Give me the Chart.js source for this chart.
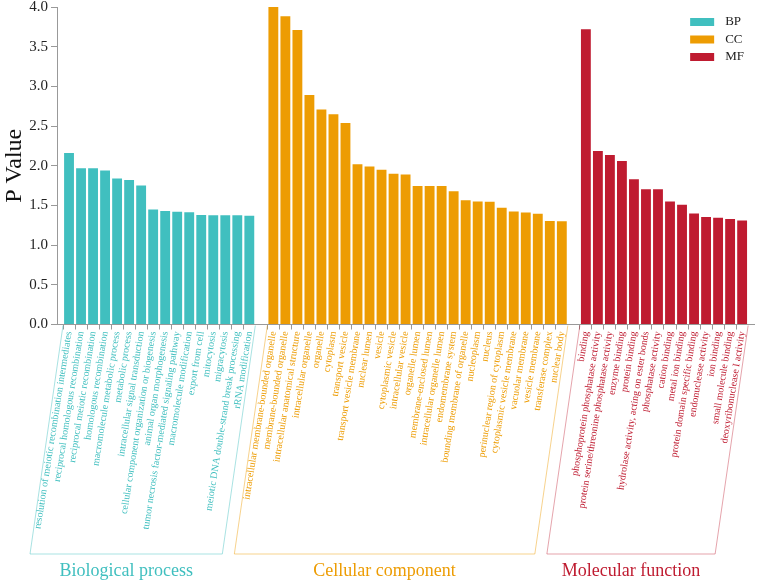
<!DOCTYPE html>
<html>
<head>
<meta charset="utf-8">
<script src="https://cdn.jsdelivr.net/npm/chart.js@4.4.1/dist/chart.umd.min.js"></script>
<style>
  html, body { margin: 0; padding: 0; background: #fff; }
  canvas { display: block; }
</style>
</head>
<body>
<canvas id="myChart" width="767" height="584"></canvas>
<script>
(function(){
const bpLabels = [
  'resolution of meiotic recombination intermediates',
  'reciprocal homologous recombination',
  'reciprocal meiotic recombination',
  'homologous recombination',
  'macromolecule metabolic process',
  'metabolic process',
  'intracellular signal transduction',
  'cellular component organization or biogenesis',
  'animal organ morphogenesis',
  'tumor necrosis factor-mediated signaling pathway',
  'macromolecule modification',
  'export from cell',
  'mitocytosis',
  'migracytosis',
  'meiotic DNA double-strand break processing',
  'rRNA modification'
];
const bpValues = [2.16, 1.97, 1.97, 1.94, 1.84, 1.82, 1.75, 1.45, 1.43, 1.42, 1.415, 1.38, 1.375, 1.375, 1.375, 1.37];

const ccLabels = [
  'intracellular membrane-bounded organelle',
  'membrane-bounded organelle',
  'intracellular anatomical structure',
  'intracellular organelle',
  'organelle',
  'cytoplasm',
  'transport vesicle',
  'transport vesicle membrane',
  'nuclear lumen',
  'vesicle',
  'cytoplasmic vesicle',
  'intracellular vesicle',
  'organelle lumen',
  'membrane-enclosed lumen',
  'intracellular organelle lumen',
  'endomembrane system',
  'bounding membrane of organelle',
  'nucleoplasm',
  'nucleus',
  'perinuclear region of cytoplasm',
  'cytoplasmic vesicle membrane',
  'vacuolar membrane',
  'vesicle membrane',
  'transferase complex',
  'nuclear body'
];
const ccValues = [4.00, 3.885, 3.71, 2.89, 2.71, 2.65, 2.54, 2.02, 1.99, 1.95, 1.90, 1.89, 1.745, 1.745, 1.745, 1.68, 1.565, 1.55, 1.545, 1.47, 1.425, 1.41, 1.395, 1.305, 1.30];

const mfLabels = [
  'binding',
  'phosphoprotein phosphatase activity',
  'protein serine/threonine phosphatase activity',
  'enzyme binding',
  'protein binding',
  'hydrolase activity, acting on ester bonds',
  'phosphatase activity',
  'cation binding',
  'metal ion binding',
  'protein domain specific binding',
  'endonuclease activity',
  'ion binding',
  'small molecule binding',
  'deoxyribonuclease I activity'
];
const mfValues = [3.72, 2.185, 2.135, 2.06, 1.83, 1.705, 1.705, 1.55, 1.51, 1.40, 1.354, 1.345, 1.33, 1.31];

const groups = [
  { key: 'BP', title: 'Biological process', color: '#40bfbf', line: 'rgba(64,191,191,0.45)', labels: bpLabels, values: bpValues },
  { key: 'CC', title: 'Cellular component', color: '#ed9c03', line: 'rgba(237,156,3,0.45)', labels: ccLabels, values: ccValues },
  { key: 'MF', title: 'Molecular function', color: '#bf1b30', line: 'rgba(191,27,48,0.4)', labels: mfLabels, values: mfValues }
];

// one empty slot at each end and between groups
let labels = [''];
let labelColor = ['#000'];
groups.forEach(g => {
  g.start = labels.length;
  g.labels.forEach(l => { labels.push(l); labelColor.push(g.color); });
  g.end = labels.length - 1;
  labels.push('');
  labelColor.push('#000');
});

const datasets = groups.map(g => ({
  label: g.key,
  data: labels.map((_, i) => (i >= g.start && i <= g.end) ? g.values[i - g.start] : null),
  backgroundColor: g.color,
  borderWidth: 0,
  grouped: false,
  categoryPercentage: 1,
  barPercentage: 0.82
}));

const serif = "'Liberation Serif', 'DejaVu Serif', serif";

const decor = {
  id: 'decor',
  afterDraw(chart) {
    const ctx = chart.ctx;
    const x = chart.scales.x;
    const area = chart.chartArea;
    const top = area.bottom;
    const bottom = chart.height - 30;
    const shift = 33;
    const half = (x.getPixelForValue(1) - x.getPixelForValue(0)) / 2;
    ctx.save();
    groups.forEach(g => {
      const x0 = x.getPixelForValue(g.start) - half;
      const x1 = x.getPixelForValue(g.end) + half;
      ctx.strokeStyle = g.line;
      ctx.lineWidth = 1;
      ctx.beginPath();
      ctx.moveTo(x0, top + 1);
      ctx.lineTo(x0 - shift, bottom);
      ctx.lineTo(x1 - shift, bottom);
      ctx.lineTo(x1, top + 1);
      ctx.stroke();
      ctx.fillStyle = g.color;
      ctx.font = '18px ' + serif;
      ctx.textAlign = 'center';
      ctx.textBaseline = 'middle';
      ctx.fillText(g.title, (x0 + x1) / 2 - shift, bottom + 17);
    });
    // legend
    ctx.font = '13px ' + serif;
    ctx.textAlign = 'left';
    ctx.textBaseline = 'middle';
    chart.data.datasets.forEach((d, i) => {
      const y = 22 + i * 17.5;
      ctx.fillStyle = d.backgroundColor;
      ctx.fillRect(area.right - 64, y - 4, 24, 8);
      ctx.fillStyle = '#222';
      ctx.fillText(d.label, area.right - 29, y);
    });
    ctx.restore();
  }
};

new Chart(document.getElementById('myChart'), {
  type: 'bar',
  data: { labels, datasets },
  options: {
    responsive: false,
    animation: false,
    devicePixelRatio: 1,
    layout: { padding: { top: 7, right: 2, left: 0, bottom: 0 } },
    plugins: {
      legend: { display: false },
      tooltip: { enabled: false }
    },
    scales: {
      x: {
        offset: false,
        afterFit: s => { s.height = 259.5; },
        border: { color: '#999', width: 1 },
        grid: {
          drawOnChartArea: false,
          tickLength: 5,
          color: c => labels[c.index] ? '#999' : 'rgba(0,0,0,0)'
        },
        ticks: {
          autoSkip: false,
          minRotation: 81,
          maxRotation: 81,
          padding: 1,
          font: { family: serif, size: 10 },
          color: c => labelColor[c.index]
        }
      },
      y: {
        min: 0,
        max: 4,
        afterFit: s => { s.width = 57; s.paddingTop = 0; s.paddingBottom = 0; },
        border: { color: '#999', width: 1 },
        grid: { drawOnChartArea: false, tickLength: 6, color: '#999' },
        ticks: {
          stepSize: 0.5,
          padding: 3,
          font: { family: serif, size: 15 },
          color: '#222',
          callback: v => v.toFixed(1)
        },
        title: {
          display: true,
          text: 'P Value',
          font: { family: serif, size: 24 },
          color: '#111',
          padding: 0
        }
      }
    }
  },
  plugins: [decor]
});
})();
</script>
</body>
</html>
